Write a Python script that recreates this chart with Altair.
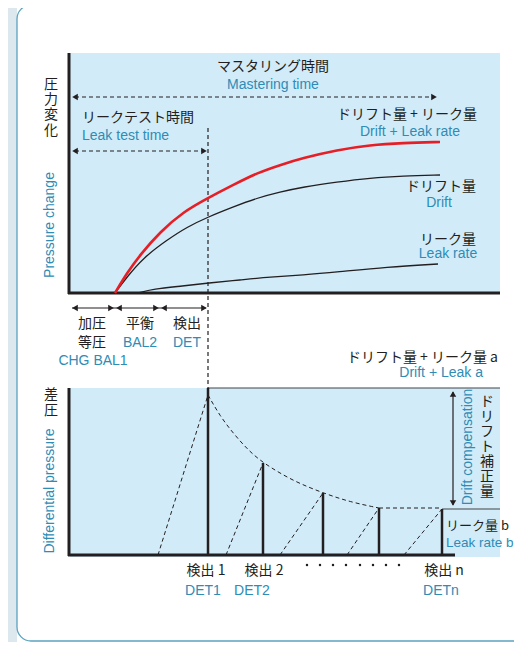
import altair as alt
import pandas as pd

# ---------------- diagram frame (schematic units) ----------------
X_DOMAIN = [8, 514]
Y_DOMAIN = [8, 642]

TEAL = "#2e8cb5"
INK = "#231f20"
PANEL = "#d2ebf8"
RED = "#e61e26"
JP = "Noto Sans CJK JP"
EN = "Liberation Sans"

# ---------------- top panel: pressure change curves ----------------
red_x = [115, 127, 140, 160, 183, 208, 233, 257, 280, 303, 337, 370, 403, 440]
red_y = [293, 273, 255, 232, 212, 198, 185, 173, 165, 158, 150, 145, 143, 142]
drift_x = [115, 127, 143, 167, 187, 208, 233, 257, 280, 303, 337, 370, 403, 440]
drift_y = [293, 277, 258, 240, 227, 217, 207, 198, 192, 187, 182, 178, 176, 175]
leak_x = [138, 153, 183, 208, 240, 270, 303, 337, 387, 438]
leak_y = [293, 289, 286, 283, 280, 277, 275, 272, 267, 264]

# ---------------- bottom panel: detection cycles ----------------
det_x = [208, 263, 323, 379, 442]
det_top = [388, 463, 493, 508, 509]
rise_start = [158, 226, 280, 347, 404]
rise_top = [395, 463, 493, 508, 509]
decay_x = [208, 220, 233, 248, 263, 293, 323, 350, 379]
decay_y = [395, 416, 433, 450, 463, 481, 493, 502, 508]
flat_x = [379, 442]
flat_y = [508, 508]
dots_x = [307, 320, 333, 346, 360, 373, 386, 399]

XS = alt.Scale(domain=X_DOMAIN, nice=False, zero=False)
YS = alt.Scale(domain=Y_DOMAIN, reverse=True, nice=False, zero=False)


def X(f="x"):
    return alt.X(f"{f}:Q", scale=XS, axis=None)


def Y(f="y"):
    return alt.Y(f"{f}:Q", scale=YS, axis=None)


def rects(rows, **kw):
    df = pd.DataFrame(rows, columns=["x", "x2", "y", "y2"])
    return alt.Chart(df).mark_rect(**kw).encode(x=X(), x2="x2:Q", y=Y(), y2="y2:Q")


def rules(rows, **kw):
    df = pd.DataFrame(rows, columns=["x", "y", "x2", "y2"])
    return alt.Chart(df).mark_rule(**kw).encode(x=X(), y=Y(), x2="x2:Q", y2="y2:Q")


layers = []
# page background strip and card
layers.append(rects([[0, 17, 0, 650]], color="#dce7ee"))
layers.append(rects([[17, 560, 5, 641]], fill="white", stroke="#5aa3c0",
                    strokeWidth=1.3, cornerRadius=14))
# light blue panels
layers.append(rects([[70, 500, 53, 293], [70, 500, 388, 557]], color=PANEL))

# thick axes
layers.append(rules([[69, 53, 69, 294], [68, 293, 500, 293],
                     [69, 388, 69, 556], [68, 555, 455, 555]],
                    color=INK, strokeWidth=3))
# thin solid reference lines
layers.append(rules([[208, 388, 500, 388], [442, 509, 500, 509]],
                    color="#444444", strokeWidth=1.2))
# detection verticals
layers.append(rules([[x, t, x, 555] for x, t in zip(det_x, det_top)],
                    color=INK, strokeWidth=2.5))
# dashed rises
layers.append(rules([[s, 555, x, t] for s, x, t in zip(rise_start, det_x, rise_top)],
                    color=INK, strokeWidth=1, strokeDash=[4, 3]))
# dashed guide lines and time arrows
layers.append(rules([[208, 128, 208, 388], [75, 97, 434, 97], [75, 151, 204, 151],
                     [flat_x[0], flat_y[0], flat_x[1], flat_y[1]]],
                    color=INK, strokeWidth=1.2, strokeDash=[4, 3]))
# solid phase arrows and drift compensation arrow
layers.append(rules([[72, 308, 206, 308], [453, 392, 453, 505]],
                    color=INK, strokeWidth=1.2))

# curves
curves = pd.DataFrame({
    "x": red_x + drift_x + leak_x,
    "y": red_y + drift_y + leak_y,
    "s": ["red"] * len(red_x) + ["drift"] * len(drift_x) + ["leak"] * len(leak_x),
})
layers.append(alt.Chart(curves).transform_filter("datum.s != 'red'").mark_line(
    color=INK, strokeWidth=1.3, interpolate="basis").encode(x=X(), y=Y(), detail="s:N"))
layers.append(alt.Chart(curves).transform_filter("datum.s == 'red'").mark_line(
    color=RED, strokeWidth=2.6, interpolate="basis").encode(x=X(), y=Y()))
decay = pd.DataFrame({"x": decay_x, "y": decay_y})
layers.append(alt.Chart(decay).mark_line(color=INK, strokeWidth=1, strokeDash=[4, 3],
                                         interpolate="basis").encode(x=X(), y=Y()))

# arrowheads
heads = pd.DataFrame([
    [75, 97, "triangle-left"], [434, 97, "triangle-right"],
    [75, 151, "triangle-left"], [204, 151, "triangle-right"],
    [75, 308, "triangle-left"], [111, 308, "triangle-right"],
    [119, 308, "triangle-left"], [156, 308, "triangle-right"],
    [164, 308, "triangle-left"], [204, 308, "triangle-right"],
    [453, 394, "triangle-up"], [453, 503, "triangle-down"],
], columns=["x", "y", "shape"])
layers.append(alt.Chart(heads).mark_point(filled=True, opacity=1, color=INK, size=42).encode(
    x=X(), y=Y(), shape=alt.Shape("shape:N", scale=None)))

# dots
layers.append(alt.Chart(pd.DataFrame({"x": dots_x, "y": [565] * len(dots_x)})).mark_circle(
    color=INK, size=6, opacity=1).encode(x=X(), y=Y()))

# ---------------- text ----------------
jp_text = ["マスタリング時間", "リークテスト時間", "ドリフト量 + リーク量", "ドリフト量", "リーク量",
           "加圧", "等圧", "平衡", "検出", "ドリフト量 + リーク量 a",
           "検出 1", "検出 2", "検出 n"]
jp_x = [273, 82, 407, 441, 448, 92, 92, 140, 187, 498, 206, 264, 444]
jp_y = [67, 118, 115, 187, 240, 324, 343, 324, 324, 358, 571, 571, 571]
jp_align = ["center", "left", "center", "center", "center", "center", "center", "center",
            "center", "right", "center", "center", "center"]

# vertically written Japanese labels (one character per row)
vert_chars = list("圧力変化") + list("差圧") + list("ドリフト補正量")
vert_x = [51] * 4 + [51] * 2 + [487] * 7
vert_y = [85, 100, 115, 131] + [395, 411] + [402, 417, 432, 447, 462, 477, 492]

en_text = ["Mastering time", "Leak test time", "Drift + Leak rate", "Drift", "Leak rate",
           "CHG BAL1", "BAL2", "DET", "Drift + Leak a", "DET1", "DET2", "DETn",
           "Pressure change", "Differential pressure", "Drift compensation"]
en_x = [273, 82, 410, 439, 448, 93, 140, 187, 483, 203, 252, 441, 50, 50, 468]
en_y = [85, 136, 132, 203, 254, 361, 343, 343, 373, 591, 591, 591, 225, 491, 447]
en_align = ["center", "left", "center", "center", "center", "center", "center", "center",
            "right", "center", "center", "center", "center", "center", "center"]
en_angle = [0] * 12 + [270, 270, 270]

# small labels at the right edge (leak rate b)
edge_jp = ["リーク量 b"]
edge_en = ["Leak rate b"]
edge_x = [446]
edge_y_jp = [526]
edge_y_en = [543]

jp = pd.DataFrame({"x": jp_x + vert_x, "y": jp_y + vert_y, "t": jp_text + vert_chars,
                   "a": jp_align + ["center"] * len(vert_chars)})
en = pd.DataFrame({"x": en_x, "y": en_y, "t": en_text, "a": en_align, "ang": en_angle})
ej = pd.DataFrame({"x": edge_x, "y": edge_y_jp, "t": edge_jp})
ee = pd.DataFrame({"x": edge_x, "y": edge_y_en, "t": edge_en})

for al in ["center", "left", "right"]:
    sub_jp = jp[jp.a == al]
    sub_en = en[en.a == al]
    if len(sub_jp):
        layers.append(alt.Chart(sub_jp).mark_text(
            font=JP, fontSize=14, color=INK, align=al, baseline="middle").encode(
            x=X(), y=Y(), text="t:N"))
    if len(sub_en):
        layers.append(alt.Chart(sub_en).mark_text(
            font=EN, fontSize=14, color=TEAL, align=al, baseline="middle").encode(
            x=X(), y=Y(), text="t:N", angle=alt.Angle("ang:Q", scale=None)))
layers.append(alt.Chart(ej).mark_text(
    font=JP, fontSize=13, color=INK, align="left", baseline="middle").encode(
    x=X(), y=Y(), text="t:N"))
layers.append(alt.Chart(ee).mark_text(
    font=EN, fontSize=13.5, color=TEAL, align="left", baseline="middle").encode(
    x=X(), y=Y(), text="t:N"))

chart = alt.layer(*layers).properties(
    width=506, height=634, padding=0, autosize="none"
).configure_view(stroke=None)

chart.save("out.html", embed_options={"renderer": "svg", "actions": False})
